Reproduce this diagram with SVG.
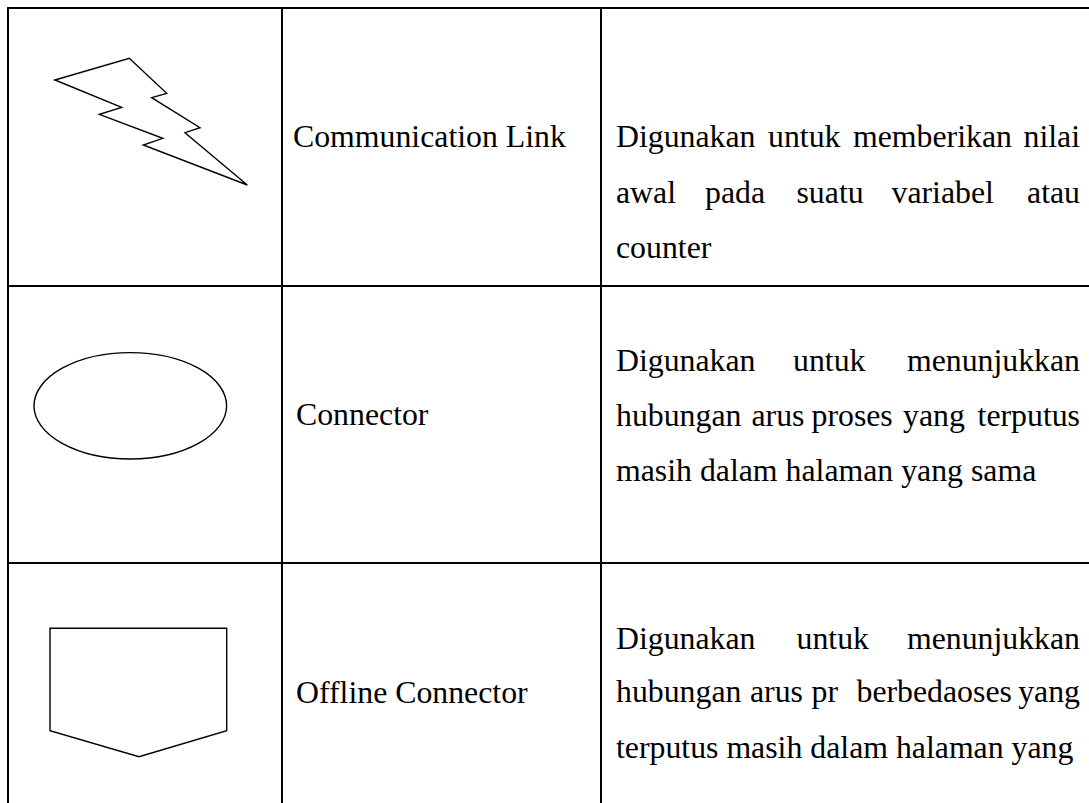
<svg xmlns="http://www.w3.org/2000/svg" width="1089" height="803" viewBox="0 0 1089 803">
<style>
.grid{stroke:#000;stroke-width:2;fill:none}
.sym{stroke:#000;stroke-width:1.4;fill:#fff}
text{font-family:"Liberation Serif","Times New Roman",serif;font-size:31.8px;fill:#000}
.r{text-anchor:end}
</style>
<rect width="1089" height="803" fill="#fff"/>
<g id="table">
<line class="grid" x1="7" y1="8" x2="1089" y2="8"/>
<line class="grid" x1="7" y1="286" x2="1089" y2="286"/>
<line class="grid" x1="7" y1="563" x2="1089" y2="563"/>
<line class="grid" x1="8" y1="7" x2="8" y2="803"/>
<line class="grid" x1="282" y1="7" x2="282" y2="803"/>
<line class="grid" x1="601" y1="7" x2="601" y2="803"/>
</g>
<g id="row-communication-link">
<polygon class="sym" points="55,80 129.3,58.3 166.7,93.3 151.7,97.7 200,127.7 185,132.7 247.3,185 143.3,145 162.7,138.3 99.3,114.3 121.7,107.3"/>
<text x="293" y="147">Communication Link</text>
<text y="147"><tspan x="616">Digunakan</tspan><tspan x="768">untuk</tspan><tspan x="853">memberikan</tspan></text>
<text class="r" x="1080" y="147">nilai</text>
<text y="202.5"><tspan x="616">awal</tspan><tspan x="705">pada</tspan><tspan x="796.5">suatu</tspan><tspan x="891.5">variabel</tspan></text>
<text class="r" x="1080" y="202.5">atau</text>
<text x="616" y="258">counter</text>
</g>
<g id="row-connector">
<ellipse class="sym" cx="130.3" cy="405.8" rx="96.3" ry="53.2"/>
<text x="296" y="425">Connector</text>
<text y="371"><tspan x="616">Digunakan</tspan><tspan x="793">untuk</tspan></text>
<text class="r" x="1080" y="371">menunjukkan</text>
<text y="426"><tspan x="616">hubungan</tspan><tspan x="751.5">arus</tspan><tspan x="811.5">proses</tspan><tspan x="903">yang</tspan></text>
<text class="r" x="1080" y="426">terputus</text>
<text x="616" y="481">masih dalam halaman yang sama</text>
</g>
<g id="row-offline-connector">
<polygon class="sym" points="50,628.3 226.7,628.3 226.7,730.7 139,756.7 50,730.7"/>
<text x="296" y="703">Offline Connector</text>
<text y="648.5"><tspan x="616">Digunakan</tspan><tspan x="796.5">untuk</tspan></text>
<text class="r" x="1080" y="648.5">menunjukkan</text>
<text y="702"><tspan x="616">hubungan</tspan><tspan x="750">arus</tspan><tspan x="811.5">pr</tspan><tspan x="856.5">berbedaoses</tspan></text>
<text class="r" x="1080" y="702">yang</text>
<text x="616" y="758">terputus masih dalam halaman yang</text>
</g>
</svg>
